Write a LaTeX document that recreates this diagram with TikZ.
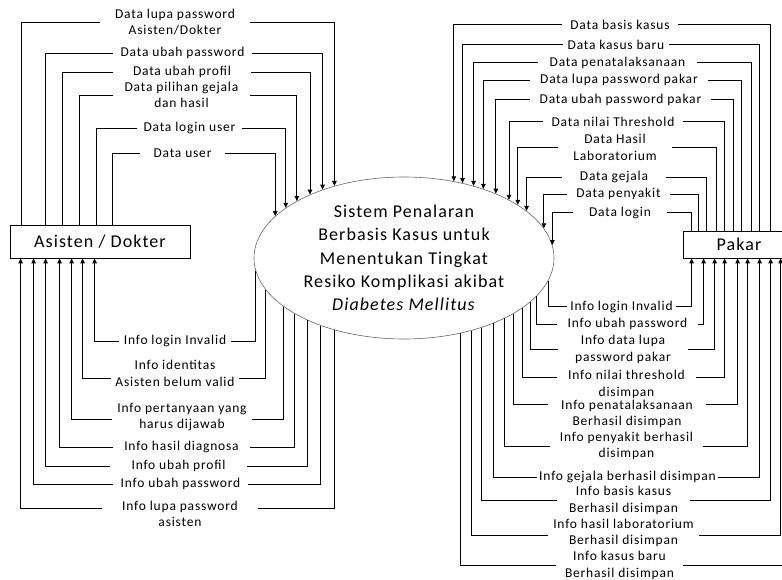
\documentclass[tikz,border=0pt]{standalone}
\usepackage{fontspec}
\setmainfont{Carlito}
\newfontfamily\flowfont{Carlito}[LetterSpace=6]
\newfontfamily\procfont{Carlito}[LetterSpace=6]
\usetikzlibrary{shapes.geometric,arrows.meta}

\tikzset{
  process/.style={draw=black!60, line width=0.6pt, ellipse, minimum width=300pt,
    minimum height=162pt, inner xsep=0pt, inner ysep=-6pt, align=center,
    font=\procfont\fontsize{18}{23.3}\selectfont},
  entity/.style={draw, line width=0.8pt, inner sep=0pt,
    font=\procfont\fontsize{18}{22}\selectfont},
  flowlbl/.style={align=center, inner xsep=2pt, inner ysep=1pt,
    font=\flowfont\fontsize{13.5}{16.5}\selectfont},
  flow/.style={line width=0.9pt, -{Triangle[length=5pt,width=4.5pt]}}
}

\begin{document}
\begin{tikzpicture}[x=1pt,y=-1pt]
  \useasboundingbox (0,0) rectangle (782,580);
  \clip (0,0) rectangle (782,580);

  % proses dan entitas luar
  \node[process] (sys) at (404,258) {Sistem Penalaran\\Berbasis Kasus untuk\\Menentukan Tingkat\\Resiko Komplikasi akibat\\\textit{Diabetes Mellitus}};
  \node[entity, minimum width=180pt, minimum height=33pt] (ad) at (100,241.5) {Asisten / Dokter};
  \node[entity, minimum width=112pt, minimum height=27pt] (pk) at (739,244.5) {Pakar};

  % titik pada tepi proses
  \foreach \n/\xx in {tl1/334,tl2/322,tl3/309,tl4/297,tl5/284,tl6/275,
      tr1/452,tr2/462,tr3/472,tr4/482,tr5/495,tr6/507,tr7/517,tr8/526,tr9/542,tr10/552}
    {\pgfmathsetmacro\ang{atan2(81*sqrt(1-((\xx-404)/150)*((\xx-404)/150)),\xx-404)}
     \coordinate (\n) at (sys.\ang);}
  \foreach \n/\xx in {bl1/256,bl2/267,bl3/284,bl4/297,bl5/309,bl6/322,bl7/335,
      br1/548,br2/538,br3/532,br4/523,br5/515,br6/506,br7/494,br8/483,br9/472,br10/462}
    {\pgfmathsetmacro\ang{360+atan2(-81*sqrt(1-((\xx-404)/150)*((\xx-404)/150)),\xx-404)}
     \coordinate (\n) at (sys.\ang);}

  % Asisten / Dokter -> sistem
  \node[flowlbl, minimum width=150pt] (l1) at (175,22) {Data lupa password\\Asisten/Dokter};
  \node[flowlbl, minimum width=139pt] (l2) at (182.5,53) {Data ubah password};
  \node[flowlbl, minimum width=138pt] (l3) at (182,72) {Data ubah profil};
  \node[flowlbl, minimum width=137pt] (l4) at (181.5,95) {Data pilihan gejala\\dan hasil};
  \node[flowlbl, minimum width=105pt] (l5) at (189.5,128) {Data login user};
  \node[flowlbl, minimum width=85pt] (l6) at (182.5,153) {Data user};
  \draw[flow] (ad.north west) ++(12,0) |- (l1.west) (l1.east) -| (tl1);
  \draw[flow] (ad.north west) ++(36,0) |- (l2.west) (l2.east) -| (tl2);
  \draw[flow] (ad.north west) ++(53,0) |- (l3.west) (l3.east) -| (tl3);
  \draw[flow] (ad.north west) ++(70,0) |- (l4.west) (l4.east) -| (tl4);
  \draw[flow] (ad.north west) ++(87,0) |- (l5.west) (l5.east) -| (tl5);
  \draw[flow] (ad.north west) ++(103,0) |- (l6.west) (l6.east) -| (tl6);

  % sistem -> Asisten / Dokter
  \node[flowlbl, minimum width=112pt] (b1) at (175,341) {Info login Invalid};
  \node[flowlbl, minimum width=127pt] (b2) at (175,373.5) {Info identitas\\Asisten belum valid};
  \node[flowlbl, minimum width=140pt] (b3) at (182,417) {Info pertanyaan yang\\harus dijawab};
  \node[flowlbl, minimum width=137pt] (b4) at (181.5,447) {Info hasil diagnosa};
  \node[flowlbl, minimum width=137pt] (b5) at (178.5,466) {Info ubah profil};
  \node[flowlbl, minimum width=135pt] (b6) at (180.5,484) {Info ubah password};
  \node[flowlbl, minimum width=156pt] (b7) at (180,514) {Info lupa password\\asisten};
  \draw[flow] (bl1) |- (b1.east) (b1.west) -| ([xshift=85pt]ad.south west);
  \draw[flow] (bl2) |- ([yshift=-4.5pt]b2.east) ([yshift=-4.5pt]b2.west) -| ([xshift=73pt]ad.south west);
  \draw[flow] (bl3) |- ([yshift=-2pt]b3.east) ([yshift=-2pt]b3.west) -| ([xshift=62pt]ad.south west);
  \draw[flow] (bl4) |- (b4.east) (b4.west) -| ([xshift=50pt]ad.south west);
  \draw[flow] (bl5) |- (b5.east) (b5.west) -| ([xshift=36pt]ad.south west);
  \draw[flow] (bl6) |- (b6.east) (b6.west) -| ([xshift=24pt]ad.south west);
  \draw[flow] (bl7) |- ([yshift=6pt]b7.east) ([yshift=6pt]b7.west) -| ([xshift=11pt]ad.south west);

  % Pakar -> sistem
  \node[flowlbl, minimum width=116pt] (r1) at (620,24.5) {Data basis kasus};
  \node[flowlbl, minimum width=106pt] (r2) at (616,44.5) {Data kasus baru};
  \node[flowlbl, minimum width=159pt] (r3) at (617.5,62.5) {Data penatalaksanaan};
  \node[flowlbl, minimum width=178pt] (r4) at (619,80) {Data lupa password pakar};
  \node[flowlbl, minimum width=181pt] (r5) at (620.5,99.5) {Data ubah password pakar};
  \node[flowlbl, minimum width=140pt] (r6) at (613,121.5) {Data nilai Threshold};
  \node[flowlbl, minimum width=114pt] (r7) at (615,147.5) {Data Hasil\\Laboratorium};
  \node[flowlbl, minimum width=104pt] (r8) at (614,177) {Data gejala};
  \node[flowlbl, minimum width=103pt] (r9) at (618.5,194) {Data penyakit};
  \node[flowlbl, minimum width=94pt] (r10) at (620,212.5) {Data login};
  \draw[flow] (pk.north west) ++(88,0) |- (r1.east) (r1.west) -| (tr1);
  \draw[flow] (pk.north west) ++(77,0) |- (r2.east) (r2.west) -| (tr2);
  \draw[flow] (pk.north west) ++(69,0) |- (r3.east) (r3.west) -| (tr3);
  \draw[flow] (pk.north west) ++(59,0) |- (r4.east) (r4.west) -| (tr4);
  \draw[flow] (pk.north west) ++(51,0) |- (r5.east) (r5.west) -| (tr5);
  \draw[flow] (pk.north west) ++(42,0) |- (r6.east) (r6.west) -| (tr6);
  \draw[flow] (pk.north west) ++(34,0) |- (r7.east) (r7.west) -| (tr7);
  \draw[flow] (pk.north west) ++(24,0) |- (r8.east) (r8.west) -| (tr8);
  \draw[flow] (pk.north west) ++(16,0) |- (r9.east) (r9.west) -| (tr9);
  \draw[flow] (pk.north west) ++(9,0) |- (r10.east) (r10.west) -| (tr10);

  % sistem -> Pakar
  \node[flowlbl, minimum width=109pt] (s1) at (621.5,306.5) {Info login Invalid};
  \node[flowlbl, minimum width=141pt] (s2) at (627.5,324) {Info ubah password};
  \node[flowlbl, minimum width=130pt] (s3) at (623,349.5) {Info data lupa\\password pakar};
  \node[flowlbl, minimum width=139pt] (s4) at (626.5,384.5) {Info nilai threshold\\disimpan};
  \node[flowlbl, minimum width=158pt] (s5) at (627,414) {Info penatalaksanaan\\Berhasil disimpan};
  \node[flowlbl, minimum width=153pt] (s6) at (626.5,446) {Info penyakit berhasil\\disimpan};
  \node[flowlbl, minimum width=181pt] (s7) at (627.5,477) {Info gejala berhasil disimpan};
  \node[flowlbl, minimum width=133pt] (s8) at (623.5,500.5) {Info basis kasus\\Berhasil disimpan};
  \node[flowlbl, minimum width=151pt] (s9) at (623.5,533) {Info hasil laboratorium\\Berhasil disimpan};
  \node[flowlbl, minimum width=127pt] (s10) at (619.5,565.5) {Info kasus baru\\Berhasil disimpan};
  \draw[flow] (br1) |- (s1.west) (s1.east) -| ([xshift=9pt]pk.south west);
  \draw[flow] (br2) |- (s2.west) (s2.east) -| ([xshift=21pt]pk.south west);
  \draw[flow] (br3) |- (s3.west) (s3.east) -| ([xshift=32pt]pk.south west);
  \draw[flow] (br4) |- ([yshift=7.5pt]s4.west) ([yshift=7.5pt]s4.east) -| ([xshift=42pt]pk.south west);
  \draw[flow] (br5) |- ([yshift=9.5pt]s5.west) ([yshift=9.5pt]s5.east) -| ([xshift=55pt]pk.south west);
  \draw[flow] (br6) |- (s6.west) (s6.east) -| ([xshift=65pt]pk.south west);
  \draw[flow] (br7) |- (s7.west) (s7.east) -| ([xshift=77pt]pk.south west);
  \draw[flow] (br8) |- (s8.west) (s8.east) -| ([xshift=88pt]pk.south west);
  \draw[flow] (br9) |- ([yshift=-2pt]s9.west) ([yshift=-2pt]s9.east) -| ([xshift=98pt]pk.south west);
  \draw[flow] (br10) |- (s10.west) (s10.east) -| ([xshift=108pt]pk.south west);
\end{tikzpicture}
\end{document}
